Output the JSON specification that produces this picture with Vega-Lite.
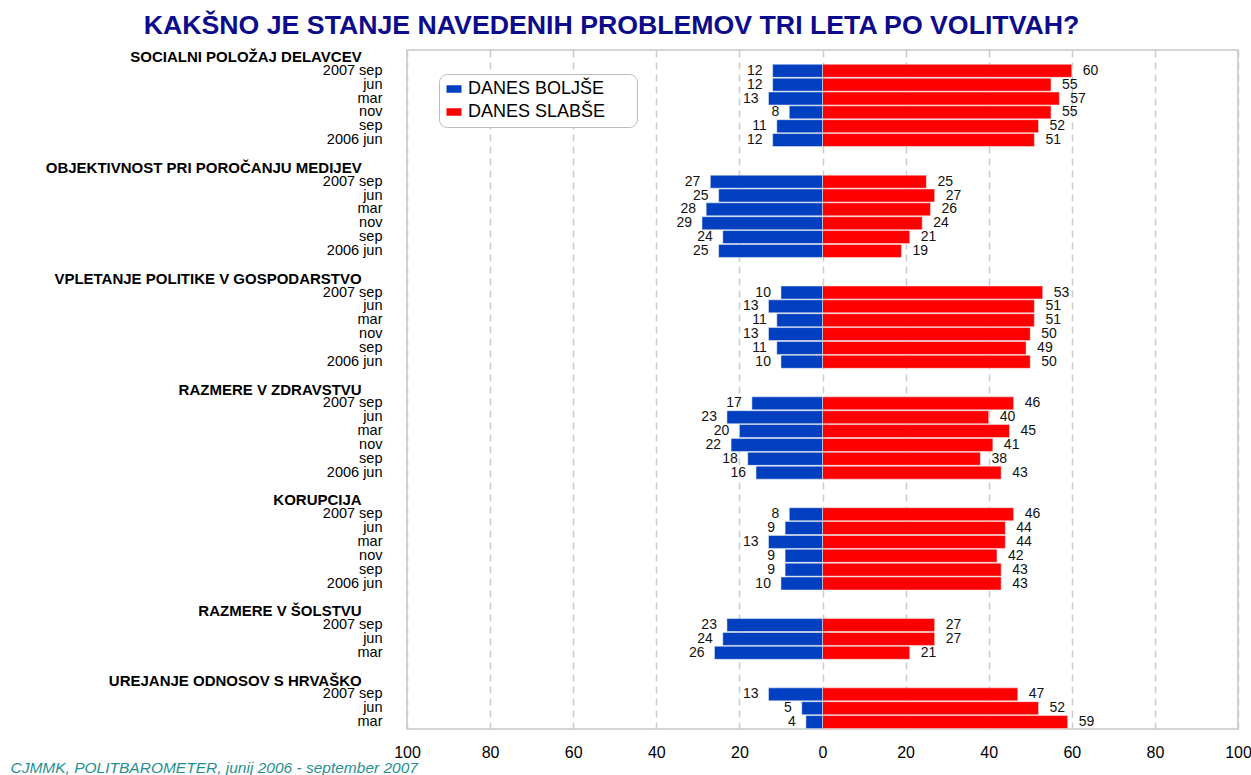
{
  "$schema": "https://vega.github.io/schema/vega-lite/v6.json",
  "autosize": {"type": "none"},
  "width": 831,
  "height": 679,
  "padding": {"left": 407, "top": 50, "right": 13, "bottom": 46},
  "background": "white",
  "config": {
    "font": "Liberation Sans",
    "view": {"stroke": "#c8c8c8", "strokeWidth": 1.5}
  },
  "title": {
    "text": "KAKŠNO JE STANJE NAVEDENIH PROBLEMOV TRI LETA PO VOLITVAH?",
    "fontSize": 26.7,
    "fontWeight": "bold",
    "color": "#0b0b8c",
    "anchor": "middle",
    "frame": "group",
    "dx": -211,
    "offset": 10
  },
  "data": {
    "values": [
      {"row": "1|2007 sep", "better": 12, "worse": 60},
      {"row": "1|jun", "better": 12, "worse": 55},
      {"row": "1|mar", "better": 13, "worse": 57},
      {"row": "1|nov", "better": 8, "worse": 55},
      {"row": "1|sep", "better": 11, "worse": 52},
      {"row": "1|2006 jun", "better": 12, "worse": 51},
      {"row": "2|2007 sep", "better": 27, "worse": 25},
      {"row": "2|jun", "better": 25, "worse": 27},
      {"row": "2|mar", "better": 28, "worse": 26},
      {"row": "2|nov", "better": 29, "worse": 24},
      {"row": "2|sep", "better": 24, "worse": 21},
      {"row": "2|2006 jun", "better": 25, "worse": 19},
      {"row": "3|2007 sep", "better": 10, "worse": 53},
      {"row": "3|jun", "better": 13, "worse": 51},
      {"row": "3|mar", "better": 11, "worse": 51},
      {"row": "3|nov", "better": 13, "worse": 50},
      {"row": "3|sep", "better": 11, "worse": 49},
      {"row": "3|2006 jun", "better": 10, "worse": 50},
      {"row": "4|2007 sep", "better": 17, "worse": 46},
      {"row": "4|jun", "better": 23, "worse": 40},
      {"row": "4|mar", "better": 20, "worse": 45},
      {"row": "4|nov", "better": 22, "worse": 41},
      {"row": "4|sep", "better": 18, "worse": 38},
      {"row": "4|2006 jun", "better": 16, "worse": 43},
      {"row": "5|2007 sep", "better": 8, "worse": 46},
      {"row": "5|jun", "better": 9, "worse": 44},
      {"row": "5|mar", "better": 13, "worse": 44},
      {"row": "5|nov", "better": 9, "worse": 42},
      {"row": "5|sep", "better": 9, "worse": 43},
      {"row": "5|2006 jun", "better": 10, "worse": 43},
      {"row": "6|2007 sep", "better": 23, "worse": 27},
      {"row": "6|jun", "better": 24, "worse": 27},
      {"row": "6|mar", "better": 26, "worse": 21},
      {"row": "7|2007 sep", "better": 13, "worse": 47},
      {"row": "7|jun", "better": 5, "worse": 52},
      {"row": "7|mar", "better": 4, "worse": 59}
    ]
  },
  "encoding": {
    "y": {
      "field": "row",
      "type": "nominal",
      "title": null,
      "scale": {
        "domain": [
          "1|#SOCIALNI POLOŽAJ DELAVCEV", "1|2007 sep", "1|jun", "1|mar", "1|nov", "1|sep", "1|2006 jun", "1|",
          "2|#OBJEKTIVNOST PRI POROČANJU MEDIJEV", "2|2007 sep", "2|jun", "2|mar", "2|nov", "2|sep", "2|2006 jun", "2|",
          "3|#VPLETANJE POLITIKE V GOSPODARSTVO", "3|2007 sep", "3|jun", "3|mar", "3|nov", "3|sep", "3|2006 jun", "3|",
          "4|#RAZMERE V ZDRAVSTVU", "4|2007 sep", "4|jun", "4|mar", "4|nov", "4|sep", "4|2006 jun", "4|",
          "5|#KORUPCIJA", "5|2007 sep", "5|jun", "5|mar", "5|nov", "5|sep", "5|2006 jun", "5|",
          "6|#RAZMERE V ŠOLSTVU", "6|2007 sep", "6|jun", "6|mar", "6|",
          "7|#UREJANJE ODNOSOV S HRVAŠKO", "7|2007 sep", "7|jun", "7|mar"
        ],
        "paddingInner": 0.06,
        "paddingOuter": 0.03
      },
      "axis": {
        "domain": false,
        "ticks": false,
        "grid": false,
        "labelPadding": 25,
        "labelColor": "#000000",
        "labelBaseline": "middle",
        "labelLimit": 400,
        "labelExpr": "indexof(datum.label,'#')>=0 ? replace(split(datum.label,'|')[1],'#','') + '\u00a0\u00a0\u00a0\u00a0\u00a0\u200b' : split(datum.label,'|')[1]",
        "labelFontWeight": {"condition": {"test": "indexof(datum.value,'#')>=0", "value": "bold"}, "value": "normal"},
        "labelFontSize": {"condition": {"test": "indexof(datum.value,'#')>=0", "value": 15}, "value": 14.5}
      }
    }
  },
  "layer": [
    {
      "mark": {"type": "bar", "stroke": "#f4f4f4", "strokeWidth": 0.5},
      "encoding": {
        "x": {
          "field": "worse",
          "type": "quantitative",
          "scale": {"domain": [-100, 100], "nice": false},
          "axis": {
            "values": [-100, -80, -60, -40, -20, 0, 20, 40, 60, 80, 100],
            "labelExpr": "abs(datum.value)",
            "labelFontSize": 16,
            "labelColor": "#000000",
            "labelPadding": 15,
            "labelFlush": false,
            "ticks": false,
            "domain": false,
            "grid": true,
            "gridColor": "#cccccc",
            "gridWidth": 1.5,
            "gridDash": [7, 5],
            "title": "CJMMK, POLITBAROMETER, junij 2006 - september 2007",
            "titleFontSize": 15.5,
            "titleFontStyle": "italic",
            "titleFontWeight": "normal",
            "titleColor": "#1f8f8f",
            "titleAnchor": "start",
            "titleAlign": "left",
            "titleBaseline": "alphabetic",
            "titleX": -397,
            "titleY": 43
          }
        },
        "color": {
          "datum": "DANES SLABŠE",
          "scale": {"domain": ["DANES BOLJŠE", "DANES SLABŠE"], "range": ["#0040c0", "#ff0000"]},
          "legend": {
            "title": null,
            "orient": "none",
            "legendX": 32,
            "legendY": 24,
            "fillColor": "white",
            "strokeColor": "#bbbbbb",
            "cornerRadius": 8,
            "padding": 6,
            "labelFontSize": 18,
            "labelColor": "#000000",
            "labelOffset": 5,
            "labelLimit": 300,
            "rowPadding": 5,
            "labelExpr": "datum.label + '\u00a0\u00a0\u00a0\u00a0\u00a0\u200b'",
            "symbolType": "M-1,-0.5H1V0.5H-1Z",
            "symbolSize": 225,
            "symbolStrokeWidth": 0
          }
        }
      }
    },
    {
      "mark": {"type": "bar", "stroke": "#f4f4f4", "strokeWidth": 0.5},
      "encoding": {
        "x": {
          "field": "better",
          "type": "quantitative",
          "scale": {"domain": [-100, 100], "nice": false, "reverse": true},
          "axis": null
        },
        "color": {"datum": "DANES BOLJŠE"}
      }
    },
    {
      "mark": {"type": "text", "align": "left", "baseline": "middle", "dx": 11, "fontSize": 14, "color": "#111111"},
      "encoding": {
        "x": {"field": "worse", "type": "quantitative", "scale": {"domain": [-100, 100], "nice": false}, "axis": null},
        "text": {"field": "worse", "type": "quantitative"}
      }
    },
    {
      "mark": {"type": "text", "align": "right", "baseline": "middle", "dx": -10, "fontSize": 14, "color": "#111111"},
      "encoding": {
        "x": {"field": "better", "type": "quantitative", "scale": {"domain": [-100, 100], "nice": false, "reverse": true}, "axis": null},
        "text": {"field": "better", "type": "quantitative"}
      }
    },
    {
      "mark": {"type": "rule", "color": "#aaaaaa", "strokeWidth": 1.5},
      "encoding": {
        "x": {"datum": 0, "type": "quantitative", "scale": {"domain": [-100, 100], "nice": false}, "axis": null}
      }
    }
  ],
  "resolve": {"scale": {"x": "independent"}}
}
